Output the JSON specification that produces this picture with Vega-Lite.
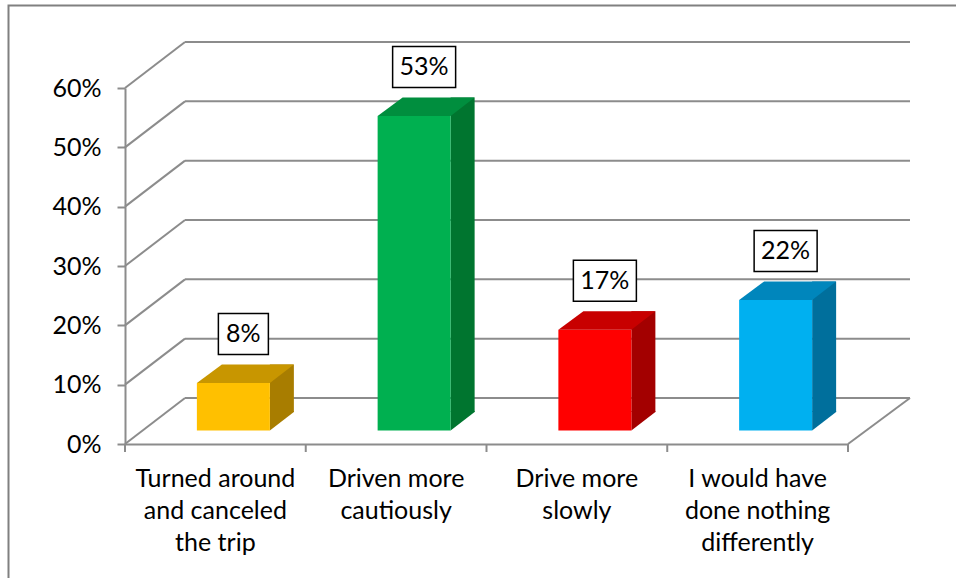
{
  "$schema": "https://vega.github.io/schema/vega-lite/v6.json",
  "autosize": "none",
  "width": 723,
  "height": 356,
  "padding": {"left": 125, "top": 88, "right": 108, "bottom": 134},
  "background": "white",
  "config": {
    "view": {"stroke": null},
    "font": "Lato",
    "axisY": {"domainColor": "#8c8c8c", "domainWidth": 2, "tickColor": "#8c8c8c", "tickWidth": 2, "tickSize": 8, "labelPadding": 16, "labelFont": "Lato", "labelFontSize": 25, "labelColor": "#000000", "grid": false, "title": null},
    "axisX": {"domainColor": "#8c8c8c", "domainWidth": 2, "ticks": false, "labelPadding": 22, "labelFont": "Lato", "labelFontSize": 25, "labelLineHeight": 32, "labelColor": "#000000", "labelAngle": 0, "labelLimit": 0, "grid": false, "title": null}
  },
  "datasets": {
    "bars": [
      {"cat": "Turned around and canceled the trip", "value": 0.08},
      {"cat": "Driven more cautiously", "value": 0.53},
      {"cat": "Drive more slowly", "value": 0.17},
      {"cat": "I would have done nothing differently", "value": 0.22}
    ],
    "ticks": [
      {"t": 0}, {"t": 0.1}, {"t": 0.2}, {"t": 0.3}, {"t": 0.4}, {"t": 0.5}, {"t": 0.6}
    ]
  },
  "data": {"name": "bars"},
  "resolve": {"scale": {"color": "independent", "size": "independent"}},
  "layer": [
    {
      "data": {"name": "ticks"},
      "mark": {"type": "rule", "color": "#8c8c8c", "strokeWidth": 2, "x2Offset": 60, "y2Offset": -46},
      "encoding": {
        "x": {"value": 0},
        "x2": {"value": 0},
        "y": {"field": "t", "type": "quantitative", "scale": {"domain": [0, 0.6], "nice": false}, "axis": {"values": [0, 0.1, 0.2, 0.3, 0.4, 0.5, 0.6], "format": ".0%", "title": null}},
        "y2": {"field": "t"}
      }
    },
    {
      "data": {"name": "ticks"},
      "mark": {"type": "rule", "color": "#8c8c8c", "strokeWidth": 2, "xOffset": 60, "x2Offset": 62, "yOffset": -46},
      "encoding": {
        "x": {"value": 0},
        "x2": {"value": "width"},
        "y": {"field": "t", "type": "quantitative", "title": null}
      }
    },
    {
      "data": {"values": [{"edge": "floor"}]},
      "mark": {"type": "rule", "color": "#8c8c8c", "strokeWidth": 2, "x2Offset": 62, "y2Offset": -46},
      "encoding": {
        "x": {"value": "width"},
        "x2": {"value": "width"},
        "y": {"datum": 0, "type": "quantitative", "title": null},
        "y2": {"datum": 0}
      }
    },
    {
      "mark": {"type": "rule", "color": "#8c8c8c", "strokeWidth": 2, "y2Offset": 8},
      "encoding": {
        "x": {"field": "cat", "type": "nominal", "sort": null, "title": null, "bandPosition": 0},
        "y": {"value": "height"},
        "y2": {"value": "height"}
      }
    },
    {
      "data": {"values": [{"edge": "last tick"}]},
      "mark": {"type": "rule", "color": "#8c8c8c", "strokeWidth": 2, "y2Offset": 8},
      "encoding": {
        "x": {"value": "width"},
        "y": {"value": "height"},
        "y2": {"value": "height"}
      }
    },
    {
      "mark": {"type": "bar", "width": 24, "xOffset": 66.5, "yOffset": -32, "y2Offset": -32},
      "encoding": {
        "x": {"field": "cat", "type": "nominal", "sort": null, "title": null, "scale": {"paddingInner": 0, "paddingOuter": 0}},
        "y": {"field": "value", "type": "quantitative", "title": null},
        "y2": {"datum": 0},
        "color": {"field": "cat", "type": "nominal", "sort": null, "legend": null, "scale": {"domain": ["Turned around and canceled the trip", "Driven more cautiously", "Drive more slowly", "I would have done nothing differently"], "range": ["#a87d00", "#00752f", "#a30000", "#006f9c"]}}
      }
    },
    {
      "mark": {"type": "point", "filled": true, "opacity": 1, "size": 4, "shape": "M36.5,-19.5 L60.5,-19.5 L60.5,-18.5 L36.5,0 Z", "xOffset": 18, "yOffset": -13.5},
      "encoding": {
        "x": {"field": "cat", "type": "nominal", "sort": null, "title": null},
        "y": {"datum": 0, "type": "quantitative", "title": null},
        "color": {"field": "cat", "type": "nominal", "sort": null, "legend": null, "scale": {"domain": ["Turned around and canceled the trip", "Driven more cautiously", "Drive more slowly", "I would have done nothing differently"], "range": ["#a87d00", "#00752f", "#a30000", "#006f9c"]}}
      }
    },
    {
      "mark": {"type": "bar", "width": 73, "xOffset": 18, "yOffset": -13.5, "y2Offset": -13.5},
      "encoding": {
        "x": {"field": "cat", "type": "nominal", "sort": null, "title": null, "axis": {"labelExpr": "datum.value == 'Turned around and canceled the trip' ? ['Turned around', 'and canceled', 'the trip'] : datum.value == 'Driven more cautiously' ? ['Driven more', 'cautiously'] : datum.value == 'Drive more slowly' ? ['Drive more', 'slowly'] : ['I would have', 'done nothing', 'differently']"}},
        "y": {"field": "value", "type": "quantitative", "title": null},
        "y2": {"datum": 0},
        "color": {"field": "cat", "type": "nominal", "sort": null, "legend": null, "scale": {"domain": ["Turned around and canceled the trip", "Driven more cautiously", "Drive more slowly", "I would have done nothing differently"], "range": ["#ffc000", "#00b050", "#ff0000", "#00b0f0"]}}
      }
    },
    {
      "mark": {"type": "point", "filled": true, "opacity": 1, "size": 4, "shape": "M-36.5,0 L36.5,0 L60.5,-18.5 L-11.5,-18.5 Z", "xOffset": 18, "yOffset": -13.5},
      "encoding": {
        "x": {"field": "cat", "type": "nominal", "sort": null, "title": null},
        "y": {"field": "value", "type": "quantitative", "title": null},
        "color": {"field": "cat", "type": "nominal", "sort": null, "legend": null, "scale": {"domain": ["Turned around and canceled the trip", "Driven more cautiously", "Drive more slowly", "I would have done nothing differently"], "range": ["#c89600", "#008e3e", "#c80000", "#0086bc"]}}
      }
    },
    {
      "mark": {"type": "bar", "fill": "white", "stroke": "black", "strokeWidth": 1.5, "xOffset": 28, "yOffset": -83, "y2Offset": -42},
      "encoding": {
        "x": {"field": "cat", "type": "nominal", "sort": null, "title": null},
        "y": {"field": "value", "type": "quantitative", "title": null},
        "y2": {"field": "value"},
        "size": {"field": "value", "type": "quantitative", "legend": null, "scale": {"type": "threshold", "domain": [0.1], "range": [50, 63]}}
      }
    },
    {
      "mark": {"type": "text", "font": "Lato", "fontSize": 25, "color": "black", "align": "center", "baseline": "middle", "xOffset": 28, "yOffset": -62.5},
      "encoding": {
        "x": {"field": "cat", "type": "nominal", "sort": null, "title": null},
        "y": {"field": "value", "type": "quantitative", "title": null},
        "text": {"field": "value", "type": "quantitative", "format": ".0%"}
      }
    },
    {
      "data": {"values": [{"frame": "chart area"}]},
      "mark": {"type": "rect", "fill": "transparent", "stroke": "#808080", "strokeWidth": 2, "xOffset": -116.5, "x2Offset": 200, "yOffset": -82.5, "y2Offset": 200},
      "encoding": {
        "x": {"value": 0},
        "x2": {"value": "width"},
        "y": {"value": 0},
        "y2": {"value": "height"}
      }
    }
  ]
}
